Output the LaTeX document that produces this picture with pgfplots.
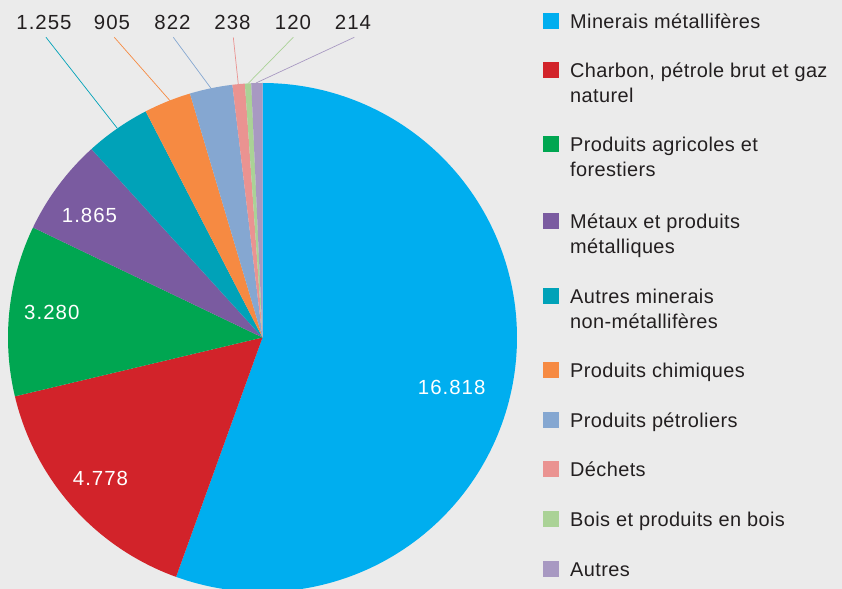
\documentclass[border=0pt]{standalone}
\usepackage{fontspec}
\setmainfont{Liberation Sans}[LetterSpace=2]
\newfontfamily\numfont{Liberation Sans}[LetterSpace=5]
\usepackage{pgfplots}
\pgfplotsset{compat=1.18}
\definecolor{bg}{HTML}{EBEBEB}
\definecolor{txt}{HTML}{231F20}
\definecolor{c1}{HTML}{00AEEF}
\definecolor{c2}{HTML}{D2232A}
\definecolor{c3}{HTML}{00A651}
\definecolor{c4}{HTML}{7A5BA0}
\definecolor{c5}{HTML}{00A2B8}
\definecolor{c6}{HTML}{F68A42}
\definecolor{c7}{HTML}{85A7D1}
\definecolor{c8}{HTML}{EA9391}
\definecolor{c9}{HTML}{AAD296}
\definecolor{c10}{HTML}{A899C2}
\newcommand\legitem[3]{%
  \fill[#1] (543bp,{#2bp-0.7bp}) rectangle (559bp,{#2bp+15.5bp});
  \node[anchor=base west, inner sep=0pt, text=txt] at (570bp,#2bp) {#3};}
\newcommand\legline[2]{%
  \node[anchor=base west, inner sep=0pt, text=txt] at (570bp,#1bp) {#2};}
% values in thousands
\pgfmathsetmacro\vA{16.818}%
\pgfmathsetmacro\vB{4.778}%
\pgfmathsetmacro\vC{3.280}%
\pgfmathsetmacro\vD{1.865}%
\pgfmathsetmacro\vE{1.255}%
\pgfmathsetmacro\vF{0.905}%
\pgfmathsetmacro\vG{0.822}%
\pgfmathsetmacro\vH{0.238}%
\pgfmathsetmacro\vI{0.120}%
\pgfmathsetmacro\vJ{0.214}%
\pgfmathsetmacro\T{\vA+\vB+\vC+\vD+\vE+\vF+\vG+\vH+\vI+\vJ}%
\pgfmathsetmacro\aA{0}%
\pgfmathsetmacro\aB{\aA+360*\vA/\T}%
\pgfmathsetmacro\aC{\aB+360*\vB/\T}%
\pgfmathsetmacro\aD{\aC+360*\vC/\T}%
\pgfmathsetmacro\aE{\aD+360*\vD/\T}%
\pgfmathsetmacro\aF{\aE+360*\vE/\T}%
\pgfmathsetmacro\aG{\aF+360*\vF/\T}%
\pgfmathsetmacro\aH{\aG+360*\vG/\T}%
\pgfmathsetmacro\aI{\aH+360*\vH/\T}%
\pgfmathsetmacro\aJ{\aI+360*\vI/\T}%
\pgfmathsetmacro\aK{360}%
\begin{document}%
\begin{tikzpicture}[every node/.style={font=\fontsize{20}{24}\selectfont}]
\begin{axis}[at={(0,0)}, anchor=south west, width=842bp, height=589bp,
  scale only axis, xmin=0, xmax=842, ymin=0, ymax=589, hide axis,
  clip mode=individual]
\fill[bg] (axis cs:0,0) rectangle (axis cs:842,589);
\addplot[fill=c1, draw=none, domain=\aA:\aB, samples=150, variable=\t] ({262.5+254.5*sin(\t)},{251.5+254.5*cos(\t)}) -- (axis cs:262.5,251.5) -- cycle;
\addplot[fill=c2, draw=none, domain=\aB:\aC, samples=60, variable=\t] ({262.5+254.5*sin(\t)},{251.5+254.5*cos(\t)}) -- (axis cs:262.5,251.5) -- cycle;
\addplot[fill=c3, draw=none, domain=\aC:\aD, samples=50, variable=\t] ({262.5+254.5*sin(\t)},{251.5+254.5*cos(\t)}) -- (axis cs:262.5,251.5) -- cycle;
\addplot[fill=c4, draw=none, domain=\aD:\aE, samples=30, variable=\t] ({262.5+254.5*sin(\t)},{251.5+254.5*cos(\t)}) -- (axis cs:262.5,251.5) -- cycle;
\addplot[fill=c5, draw=none, domain=\aE:\aF, samples=20, variable=\t] ({262.5+254.5*sin(\t)},{251.5+254.5*cos(\t)}) -- (axis cs:262.5,251.5) -- cycle;
\addplot[fill=c6, draw=none, domain=\aF:\aG, samples=15, variable=\t] ({262.5+254.5*sin(\t)},{251.5+254.5*cos(\t)}) -- (axis cs:262.5,251.5) -- cycle;
\addplot[fill=c7, draw=none, domain=\aG:\aH, samples=15, variable=\t] ({262.5+254.5*sin(\t)},{251.5+254.5*cos(\t)}) -- (axis cs:262.5,251.5) -- cycle;
\addplot[fill=c8, draw=none, domain=\aH:\aI, samples=5, variable=\t] ({262.5+254.5*sin(\t)},{251.5+254.5*cos(\t)}) -- (axis cs:262.5,251.5) -- cycle;
\addplot[fill=c9, draw=none, domain=\aI:\aJ, samples=5, variable=\t] ({262.5+254.5*sin(\t)},{251.5+254.5*cos(\t)}) -- (axis cs:262.5,251.5) -- cycle;
\addplot[fill=c10, draw=none, domain=\aJ:\aK, samples=5, variable=\t] ({262.5+254.5*sin(\t)},{251.5+254.5*cos(\t)}) -- (axis cs:262.5,251.5) -- cycle;
% leader lines
\draw[c5, line width=0.7pt] (axis cs:46,551.7) -- (axis cs:117.3,460.7);
\draw[c6, line width=0.7pt] (axis cs:114.3,551.7) -- (axis cs:170,488.3);
\draw[c7, line width=0.7pt] (axis cs:173.3,551.7) -- (axis cs:211.7,499.7);
\draw[c8, line width=0.7pt] (axis cs:233.3,551.7) -- (axis cs:238.3,504.7);
\draw[c9, line width=0.7pt] (axis cs:293.3,551.7) -- (axis cs:248.3,505.7);
\draw[c10, line width=0.7pt] (axis cs:354.3,551.7) -- (axis cs:256,506);
% outside labels
\node[anchor=base, text=txt, inner sep=0pt, font=\fontsize{20.5}{24}\selectfont\numfont] at (axis cs:44,559.7) {1.255};
\node[anchor=base, text=txt, inner sep=0pt, font=\fontsize{20.5}{24}\selectfont\numfont] at (axis cs:112,559.7) {905};
\node[anchor=base, text=txt, inner sep=0pt, font=\fontsize{20.5}{24}\selectfont\numfont] at (axis cs:172.5,559.7) {822};
\node[anchor=base, text=txt, inner sep=0pt, font=\fontsize{20.5}{24}\selectfont\numfont] at (axis cs:232.5,559.7) {238};
\node[anchor=base, text=txt, inner sep=0pt, font=\fontsize{20.5}{24}\selectfont\numfont] at (axis cs:293,559.7) {120};
\node[anchor=base, text=txt, inner sep=0pt, font=\fontsize{20.5}{24}\selectfont\numfont] at (axis cs:353,559.7) {214};
% inside labels
\node[anchor=base, text=white, inner sep=0pt, font=\fontsize{20.5}{24}\selectfont\numfont] at (axis cs:451.7,194) {16.818};
\node[anchor=base, text=white, inner sep=0pt, font=\fontsize{20.5}{24}\selectfont\numfont] at (axis cs:100.5,103) {4.778};
\node[anchor=base, text=white, inner sep=0pt, font=\fontsize{20.5}{24}\selectfont\numfont] at (axis cs:51.8,269.7) {3.280};
\node[anchor=base, text=white, inner sep=0pt, font=\fontsize{20.5}{24}\selectfont\numfont] at (axis cs:89.5,366.7) {1.865};
\end{axis}
\legitem{c1}{560.7}{Minerais métallifères}
\legitem{c2}{511.7}{Charbon, pétrole brut et gaz}
\legline{486.3}{naturel}
\legitem{c3}{437.3}{Produits agricoles et}
\legline{412.3}{forestiers}
\legitem{c4}{360.7}{Métaux et produits}
\legline{335.7}{métalliques}
\legitem{c5}{285.7}{Autres minerais}
\legline{260}{non-métallifères}
\legitem{c6}{211.3}{Produits chimiques}
\legitem{c7}{161.3}{Produits pétroliers}
\legitem{c8}{112.3}{Déchets}
\legitem{c9}{62.3}{Bois et produits en bois}
\legitem{c10}{12.3}{Autres}
\end{tikzpicture}%
\end{document}
